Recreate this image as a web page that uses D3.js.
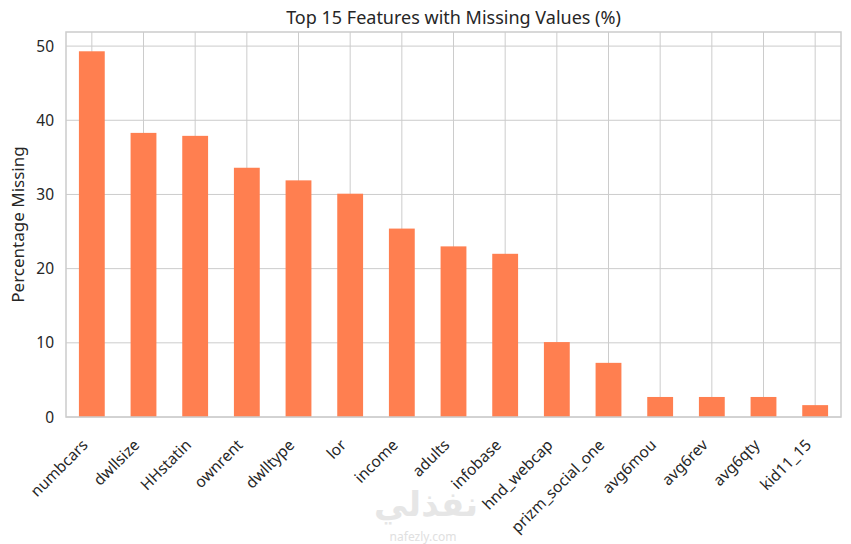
<!DOCTYPE html>
<html>
<head>
<meta charset="utf-8">
<script src="https://cdn.jsdelivr.net/npm/d3@7"></script>
<style>
  body { margin: 0; background: #fff; }
  svg { font-family: "Noto Sans", "Open Sans", sans-serif; }
</style>
</head>
<body>
<svg id="chart" width="851" height="544"></svg>
<script>
const features = ['numbcars', 'dwllsize', 'HHstatin', 'ownrent', 'dwlltype', 'lor', 'income',
  'adults', 'infobase', 'hnd_webcap', 'prizm_social_one', 'avg6mou', 'avg6rev', 'avg6qty', 'kid11_15'];
const missingPct = [49.3, 38.3, 37.9, 33.6, 31.9, 30.1, 25.4, 23.0, 22.0, 10.1, 7.3, 2.7, 2.7, 2.7, 1.6];
const yTicks = [0, 10, 20, 30, 40, 50];

const svg = d3.select('#chart');
const margin = { top: 32, right: 10, bottom: 127, left: 66 };
const width = 851 - margin.left - margin.right;
const height = 544 - margin.top - margin.bottom;

const x = d3.scaleBand()
  .domain(features)
  .range([0, width])
  .paddingInner(0.5)
  .paddingOuter(0.25);
const y = d3.scaleLinear()
  .domain([0, 51.9])
  .range([height, 0]);

const g = svg.append('g').attr('transform', `translate(${margin.left},${margin.top})`);

// grid
g.append('g')
  .selectAll('line')
  .data(yTicks)
  .join('line')
  .attr('x1', 0).attr('x2', width)
  .attr('y1', d => y(d)).attr('y2', d => y(d))
  .attr('stroke', '#cccccc').attr('stroke-width', 1);
g.append('g')
  .selectAll('line')
  .data(features)
  .join('line')
  .attr('x1', d => x(d) + x.bandwidth() / 2).attr('x2', d => x(d) + x.bandwidth() / 2)
  .attr('y1', 0).attr('y2', height)
  .attr('stroke', '#cccccc').attr('stroke-width', 1);

// bars
g.append('g')
  .selectAll('rect')
  .data(features)
  .join('rect')
  .attr('x', d => x(d))
  .attr('width', x.bandwidth())
  .attr('y', (d, i) => y(missingPct[i]))
  .attr('height', (d, i) => height - y(missingPct[i]))
  .attr('fill', '#ff7f50');

// frame
g.append('rect')
  .attr('width', width).attr('height', height)
  .attr('fill', 'none').attr('stroke', '#cccccc').attr('stroke-width', 1.5);

// y axis labels
g.append('g')
  .selectAll('text')
  .data(yTicks)
  .join('text')
  .attr('x', -12)
  .attr('y', d => y(d))
  .attr('dy', '0.36em')
  .attr('text-anchor', 'end')
  .attr('font-size', 15.5)
  .attr('fill', '#262626')
  .text(d => d);

// x axis labels
g.append('g')
  .selectAll('text')
  .data(features)
  .join('text')
  .attr('transform', d => `translate(${x(d) + x.bandwidth() / 2 - 3},${height + 29}) rotate(-45)`)
  .attr('text-anchor', 'end')
  .attr('font-size', 15.5)
  .attr('fill', '#262626')
  .text(d => d);

svg.append('text')
  .attr('x', margin.left + width / 2)
  .attr('y', 24)
  .attr('text-anchor', 'middle')
  .attr('font-size', 18)
  .attr('fill', '#262626')
  .text('Top 15 Features with Missing Values (%)');

svg.append('text')
  .attr('transform', `translate(24,${margin.top + height / 2}) rotate(-90)`)
  .attr('text-anchor', 'middle')
  .attr('font-size', 17)
  .attr('fill', '#262626')
  .text('Percentage Missing');

// watermark
svg.append('text')
  .attr('x', 426).attr('y', 516)
  .attr('text-anchor', 'middle')
  .attr('font-family', 'DejaVu Sans')
  .attr('font-size', 34)
  .attr('font-weight', 'bold')
  .attr('fill', '#e6e6e6')
  .text('نفذلي');
svg.append('text')
  .attr('x', 423).attr('y', 541)
  .attr('text-anchor', 'middle')
  .attr('font-size', 12)
  .attr('fill', '#e0e0e0')
  .text('nafezly.com');
</script>
</body>
</html>
